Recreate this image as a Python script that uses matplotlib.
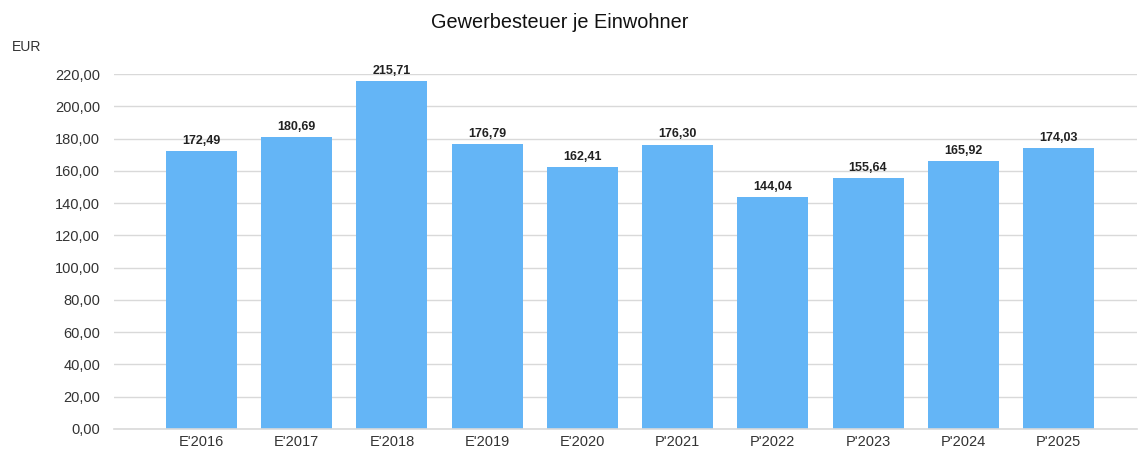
import matplotlib
matplotlib.use("Agg")
import matplotlib.pyplot as plt

categories = ["E'2016", "E'2017", "E'2018", "E'2019", "E'2020", "P'2021", "P'2022", "P'2023", "P'2024", "P'2025"]
values = [172.49, 180.69, 215.71, 176.79, 162.41, 176.30, 144.04, 155.64, 165.92, 174.03]
yticks = [0, 20, 40, 60, 80, 100, 120, 140, 160, 180, 200, 220]

plt.rcParams['font.family'] = ['Liberation Sans', 'DejaVu Sans']

def de(v):
    return f"{v:.2f}".replace('.', ',')

fig = plt.figure(figsize=(11.4, 4.53), dpi=100)
ax = fig.add_axes([0.1, 1 - 429/453, 0.997 - 0.1, (429 - 74)/453])
x = list(range(len(categories)))
ax.bar(x, values, width=0.745, color='#64B5F6', zorder=2)
for xi, v in zip(x, values):
    ax.text(xi, v + 2.5, de(v), ha='center', va='bottom', fontsize=9, fontweight='bold', color='#222222')
ax.set_xlim(-0.918, 9.82)
ax.set_ylim(0, 220)
ax.set_yticks(yticks)
ax.set_yticklabels([de(t) for t in yticks], fontsize=10.5, color='#333333')
ax.set_xticks(x)
ax.set_xticklabels(categories, fontsize=10.5, color='#333333')
ax.grid(axis='y', color='#d9d9d9', linewidth=1, zorder=0)
ax.axhline(0, color='#d9d9d9', linewidth=1.2, zorder=3, clip_on=False)
ax.tick_params(axis='y', length=0, pad=10)
ax.tick_params(axis='x', length=0, pad=4)
for s in ax.spines.values():
    s.set_visible(False)
fig.text(560/1140, 1 - 22/453, "Gewerbesteuer je Einwohner", ha='center', va='center', fontsize=14.3, color='#111111')
fig.text(12/1140, 1 - 47/453, "EUR", ha='left', va='center', fontsize=10, color='#333333')
fig.savefig("out.png", dpi=100)
